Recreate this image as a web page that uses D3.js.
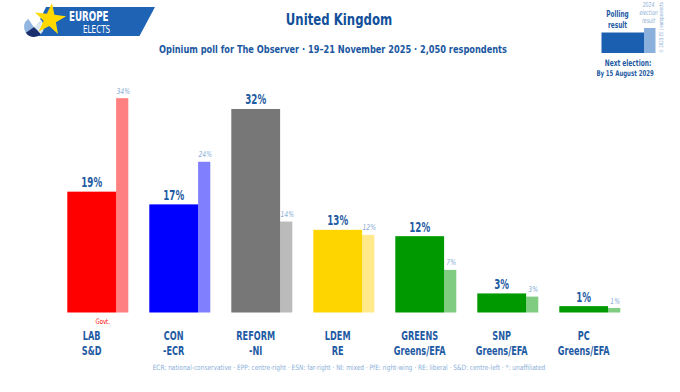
<!DOCTYPE html>
<html><head><meta charset="utf-8">
<script src="https://cdn.jsdelivr.net/npm/d3@7"></script>
<style>
html,body{margin:0;padding:0;background:#fff;}
svg{display:block;font-family:"DejaVu Sans Condensed","DejaVu Sans",sans-serif;}
</style></head>
<body>
<svg id="c" width="680" height="392"></svg>
<script>
const parties = ["LAB","CON","REFORM","LDEM","GREENS","SNP","PC"];
const groups = ["S&D","-ECR","-NI","RE","Greens/EFA","Greens/EFA","Greens/EFA"];
const poll = [19,17,32,13,12,3,1];
const election = [33.7,23.7,14.3,12.2,6.7,2.5,0.7];
const electionLabels = ["34%","24%","14%","12%","7%","3%","1%"];
const pollColors = ["#ff0000","#0000ff","#777777","#ffd500","#009900","#009900","#009900"];
const electionColors = ["#ff8080","#8080ff","#bbbbbb","#ffe98a","#80cc80","#80cc80","#80cc80"];

const svg = d3.select("#c");
const base = 312.5;
const x = d3.scaleBand().domain(parties).range([67.3, 620.3]).paddingInner(0.256).paddingOuter(0);
const y = d3.scaleLinear().domain([0,35]).range([base, base - 35*6.36]);
const pw = x.bandwidth()*0.8, ew = x.bandwidth()-pw;
const dark = "#1f5ba3", light = "#8aaed6";

// condensed text helper
function txt(sel, tx, ty, s, o){
  o = o || {};
  return sel.append("text")
    .attr("transform", `translate(${tx},${ty}) scale(${o.sx||0.8},1)`)
    .attr("text-anchor", o.anchor||"middle")
    .attr("font-size", o.size||10)
    .attr("font-weight", o.weight||"normal")
    .attr("font-style", o.style||"normal")
    .attr("fill", o.fill||dark)
    .text(s);
}

// bars
const g = svg.append("g");
parties.forEach((p,i)=>{
  const x0 = x(p);
  g.append("rect").attr("x", x0+pw).attr("y", y(election[i])).attr("width", ew).attr("height", base-y(election[i])).attr("fill", electionColors[i]);
  g.append("rect").attr("x", x0).attr("y", y(poll[i])).attr("width", pw).attr("height", base-y(poll[i])).attr("fill", pollColors[i]);
  txt(g, x0+pw/2, y(poll[i])-4.5, poll[i]+"%", {size:13.5, weight:"bold", sx:0.72});
  txt(g, x0+pw+ew/2+1, y(election[i])-4.5, electionLabels[i], {size:8, style:"italic", fill:light, sx:0.85});
  txt(g, x0+pw/2, 340, p, {size:11.8, weight:"bold", sx:0.77});
  txt(g, x0+pw/2, 355, groups[i], {size:11.8, weight:"bold", sx:0.77});
});
txt(svg, x("LAB")+pw/2+11, 324, "Govt.", {size:7.5, fill:"#ff0000", sx:0.8});

// titles
txt(svg, 339, 25, "United Kingdom", {size:16.5, weight:"bold", fill:"#12509a", sx:0.79});
txt(svg, 333, 53, "Opinium poll for The Observer · 19–21 November 2025 · 2,050 respondents", {size:11.3, weight:"bold", fill:"#1a57a0", sx:0.81});

// footnote
txt(svg, 349, 370, "ECR: national-conservative · EPP: centre-right · ESN: far-right · NI: mixed · PfE: right-wing · RE: liberal · S&D: centre-left · *: unaffiliated", {size:7.3, fill:"#8ab0d8", sx:0.89});

// logo
const logo = svg.append("g");
logo.append("polygon").attr("points","46,7 155,7 139.5,36 32,36").attr("fill","#1f63b5");
const arc = d3.arc().innerRadius(0).outerRadius(10);
const pieCx = 34, pieCy = 27;
[[ -2.2, -0.6, "#8fb5e0"], [-0.6, 0.9, "#ffffff"], [0.9, 2.4, "#dde8f5"], [2.4, 4.1, "#1a2f6b"]].forEach(s=>{
  logo.append("path").attr("d", arc({startAngle:s[0], endAngle:s[1]})).attr("transform",`translate(${pieCx},${pieCy})`).attr("fill",s[2]);
});
const starPts = d3.range(10).map(k=>{
  const a = -Math.PI/2 + k*Math.PI/5 + 0.12;
  const r = k%2===0 ? 16.5 : 6.5;
  return [50 + r*Math.cos(a), 19.5 + r*Math.sin(a)];
});
logo.append("polygon").attr("points", starPts.map(p=>p.join(",")).join(" ")).attr("fill","#ffd800");
txt(logo, 69, 20.5, "EUROPE", {anchor:"start", size:13.5, weight:"bold", fill:"#fff", sx:0.72});
txt(logo, 83, 33.3, "ELECTS", {anchor:"start", size:10.3, fill:"#fff", sx:0.78});

// legend top right
const lg = svg.append("g");
lg.append("rect").attr("x",644).attr("y",28).attr("width",11.5).attr("height",25).attr("fill","#8cb0dc");
lg.append("rect").attr("x",601.5).attr("y",32.5).attr("width",42.5).attr("height",20.5).attr("fill","#1a5fb0");
txt(lg, 617.5, 17, "Polling", {size:9.5, weight:"bold", sx:0.68});
txt(lg, 617.5, 27.5, "result", {size:9.5, weight:"bold", sx:0.68});
["2024","election","result"].forEach((t,i)=>{
  txt(lg, 648.5, 7+i*8, t, {size:6.8, style:"italic", fill:light, sx:0.75});
});
lg.append("text").attr("transform","translate(663,53) rotate(-90) scale(0.8,1)").attr("font-size",5.5).attr("fill",light).text("© 2025 EE | europeelects");
txt(lg, 628, 65.5, "Next election:", {size:9, weight:"bold", sx:0.73});
txt(lg, 625, 75.5, "By 15 August 2029", {size:8, weight:"bold", sx:0.75});
</script>
</body></html>
